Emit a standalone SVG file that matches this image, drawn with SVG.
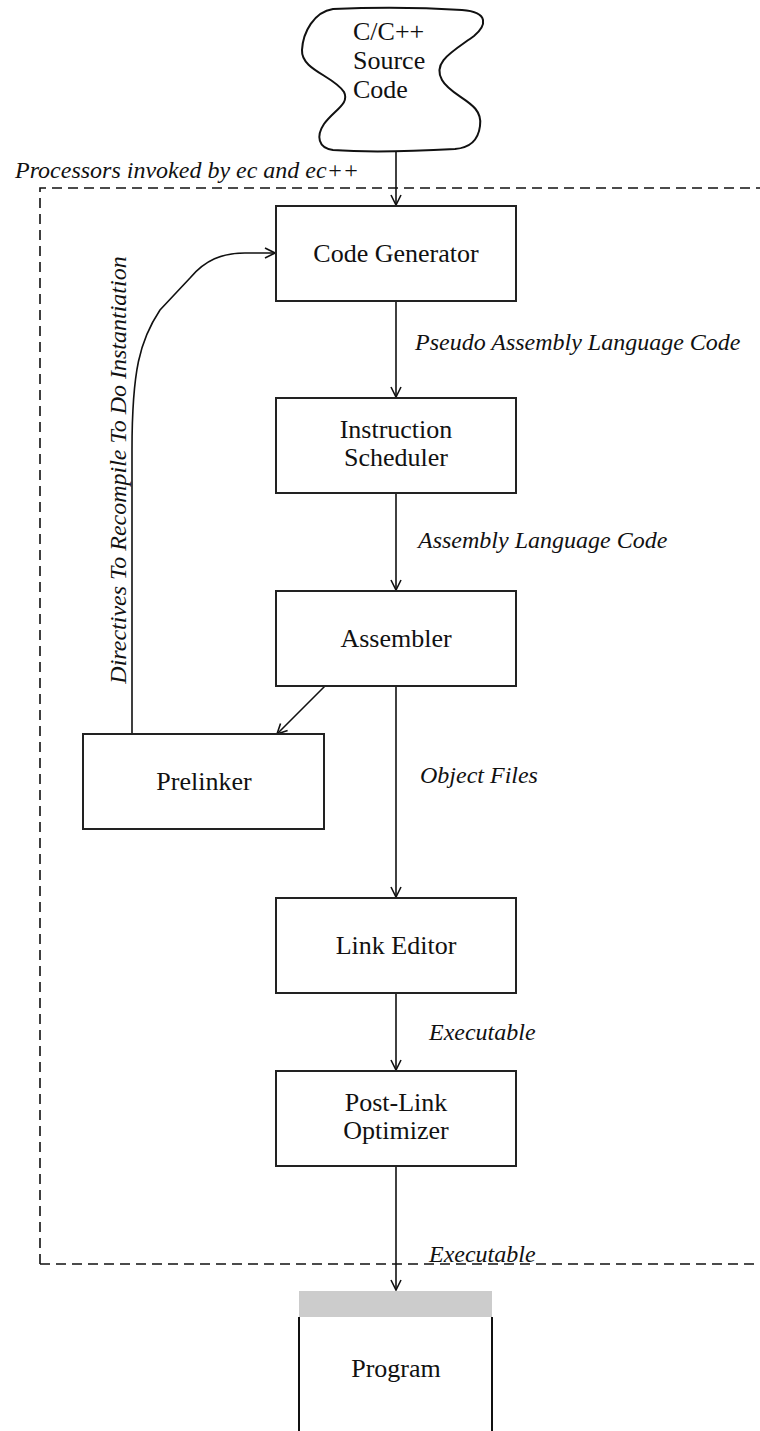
<svg xmlns="http://www.w3.org/2000/svg" width="760" height="1431" viewBox="0 0 760 1431">
<defs>
<style>
.box{fill:#fff;stroke:#222;stroke-width:2}
.t{font-family:"Liberation Serif","Times New Roman",serif;font-size:26px;fill:#111;text-anchor:middle}
.s{font-family:"Liberation Serif","Times New Roman",serif;font-size:26px;fill:#111;text-anchor:start}
.i{font-family:"Liberation Serif","Times New Roman",serif;font-size:24px;font-style:italic;fill:#111}
.c{fill:none;stroke:#111;stroke-width:1.6}
</style>
<marker id="a" viewBox="0 0 12 12" refX="11" refY="6" markerWidth="12" markerHeight="12" markerUnits="userSpaceOnUse" orient="auto">
<path d="M1,1 L11,6 L1,11" fill="none" stroke="#111" stroke-width="1.6"/>
</marker>
</defs>
<rect width="760" height="1431" fill="#fff"/>
<g id="frame">
<path d="M40,1264 V188 H760 M40,1264 H760" fill="none" stroke="#111" stroke-width="1.6" stroke-dasharray="10,6"/>
<text class="i" x="15" y="178">Processors invoked by ec and ec++</text>
</g>
<g id="connectors">
<path class="c" d="M396,145 V205" marker-end="url(#a)"/>
<path class="c" d="M396,301 V397" marker-end="url(#a)"/>
<path class="c" d="M396,493 V590" marker-end="url(#a)"/>
<path class="c" d="M396,686 V897" marker-end="url(#a)"/>
<path class="c" d="M325,686 L277,734" marker-end="url(#a)"/>
<path class="c" d="M396,993 V1070" marker-end="url(#a)"/>
<path class="c" d="M396,1166 V1290" marker-end="url(#a)"/>
<path class="c" d="M132,734 V450 C132,370 140,340 160,310 L190,278 C205,260 222,253 245,253 H275" marker-end="url(#a)"/>
<text class="i" x="415" y="350">Pseudo Assembly Language Code</text>
<text class="i" x="418" y="548">Assembly Language Code</text>
<text class="i" x="420" y="783">Object Files</text>
<text class="i" x="429" y="1040">Executable</text>
<text class="i" x="429" y="1262">Executable</text>
<text class="i" transform="translate(126,470) rotate(-90)" text-anchor="middle">Directives To Recompile To Do Instantiation</text>
</g>
<g id="source">
<path d="M333,9 C380,7 430,8 462,10 C490,12 486,26 474,36 C452,52 432,62 442,80 C452,98 484,102 480,126 C478,142 468,148 455,149 C400,152 360,152 333,150 C318,148 316,136 324,124 C334,110 350,104 344,92 C334,76 301,70 302,50 C303,32 314,12 333,9 Z" fill="#fff" stroke="#111" stroke-width="2"/>
<text class="s" x="353" y="40">C/C++</text>
<text class="s" x="353" y="69">Source</text>
<text class="s" x="353" y="98">Code</text>
</g>
<g id="codegen"><rect class="box" x="276" y="206" width="240" height="95"/><text class="t" x="396" y="262">Code Generator</text></g>
<g id="scheduler"><rect class="box" x="276" y="398" width="240" height="95"/><text class="t" x="396" y="438">Instruction</text><text class="t" x="396" y="466">Scheduler</text></g>
<g id="assembler"><rect class="box" x="276" y="591" width="240" height="95"/><text class="t" x="396" y="647">Assembler</text></g>
<g id="prelinker"><rect class="box" x="83" y="734" width="241" height="95"/><text class="t" x="204" y="790">Prelinker</text></g>
<g id="linkeditor"><rect class="box" x="276" y="898" width="240" height="95"/><text class="t" x="396" y="954">Link Editor</text></g>
<g id="postlink"><rect class="box" x="276" y="1071" width="240" height="95"/><text class="t" x="396" y="1111">Post-Link</text><text class="t" x="396" y="1139">Optimizer</text></g>
<g id="program">
<rect x="299" y="1291" width="193" height="26" fill="#ccc"/>
<path d="M299,1317 V1431 M492,1317 V1431" stroke="#111" stroke-width="2"/>
<text class="t" x="396" y="1377">Program</text>
</g>
</svg>
